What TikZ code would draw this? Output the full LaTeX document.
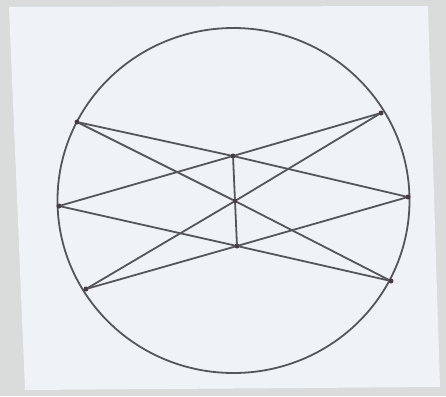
\documentclass[tikz,border=0pt]{standalone}
\usetikzlibrary{calc}
\definecolor{deskgray}{HTML}{D9DCDB}
\definecolor{paper}{HTML}{EFF2F7}
\definecolor{pencil}{HTML}{55555C}
\definecolor{dotink}{HTML}{4A3A42}

\begin{document}
\begin{tikzpicture}[x=1pt, y=-1pt,
  chord/.style={draw=pencil, line width=1.8pt, line cap=round},
  pt/.style={circle, fill=dotink, inner sep=0pt, minimum size=5pt}
]
\useasboundingbox (0,0) rectangle (446,396);
\fill[deskgray] (0,0) rectangle (446,396);
\fill[paper] (9,7) -- (428,6) -- (440,387) -- (25,390) -- cycle;
% circle
\draw[chord] (233.5,200.5) ellipse [x radius=176pt, y radius=172.5pt];
% points on the circle
\node[pt] (A) at (77,122) {};
\node[pt] (B) at (381,113) {};
\node[pt] (C) at (59,206) {};
\node[pt] (D) at (408,197) {};
\node[pt] (E) at (86,289) {};
\node[pt] (F) at (391,281) {};
% inner points
\node[pt] (P) at (233,156) {};
\node[pt] (Q) at (235,201) {};
\node[pt] (R) at (237,246) {};
% chords
\draw[chord] (A) -- (P) -- (B);
\draw[chord] (C) -- (P) -- (D);
\draw[chord] (C) -- (R) -- (D);
\draw[chord] (E) -- (R) -- (F);
\draw[chord] (A) -- (Q) -- (F);
\draw[chord] (B) -- (Q) -- (E);
\draw[chord] (P) -- (Q) -- (R);
\end{tikzpicture}
\end{document}
